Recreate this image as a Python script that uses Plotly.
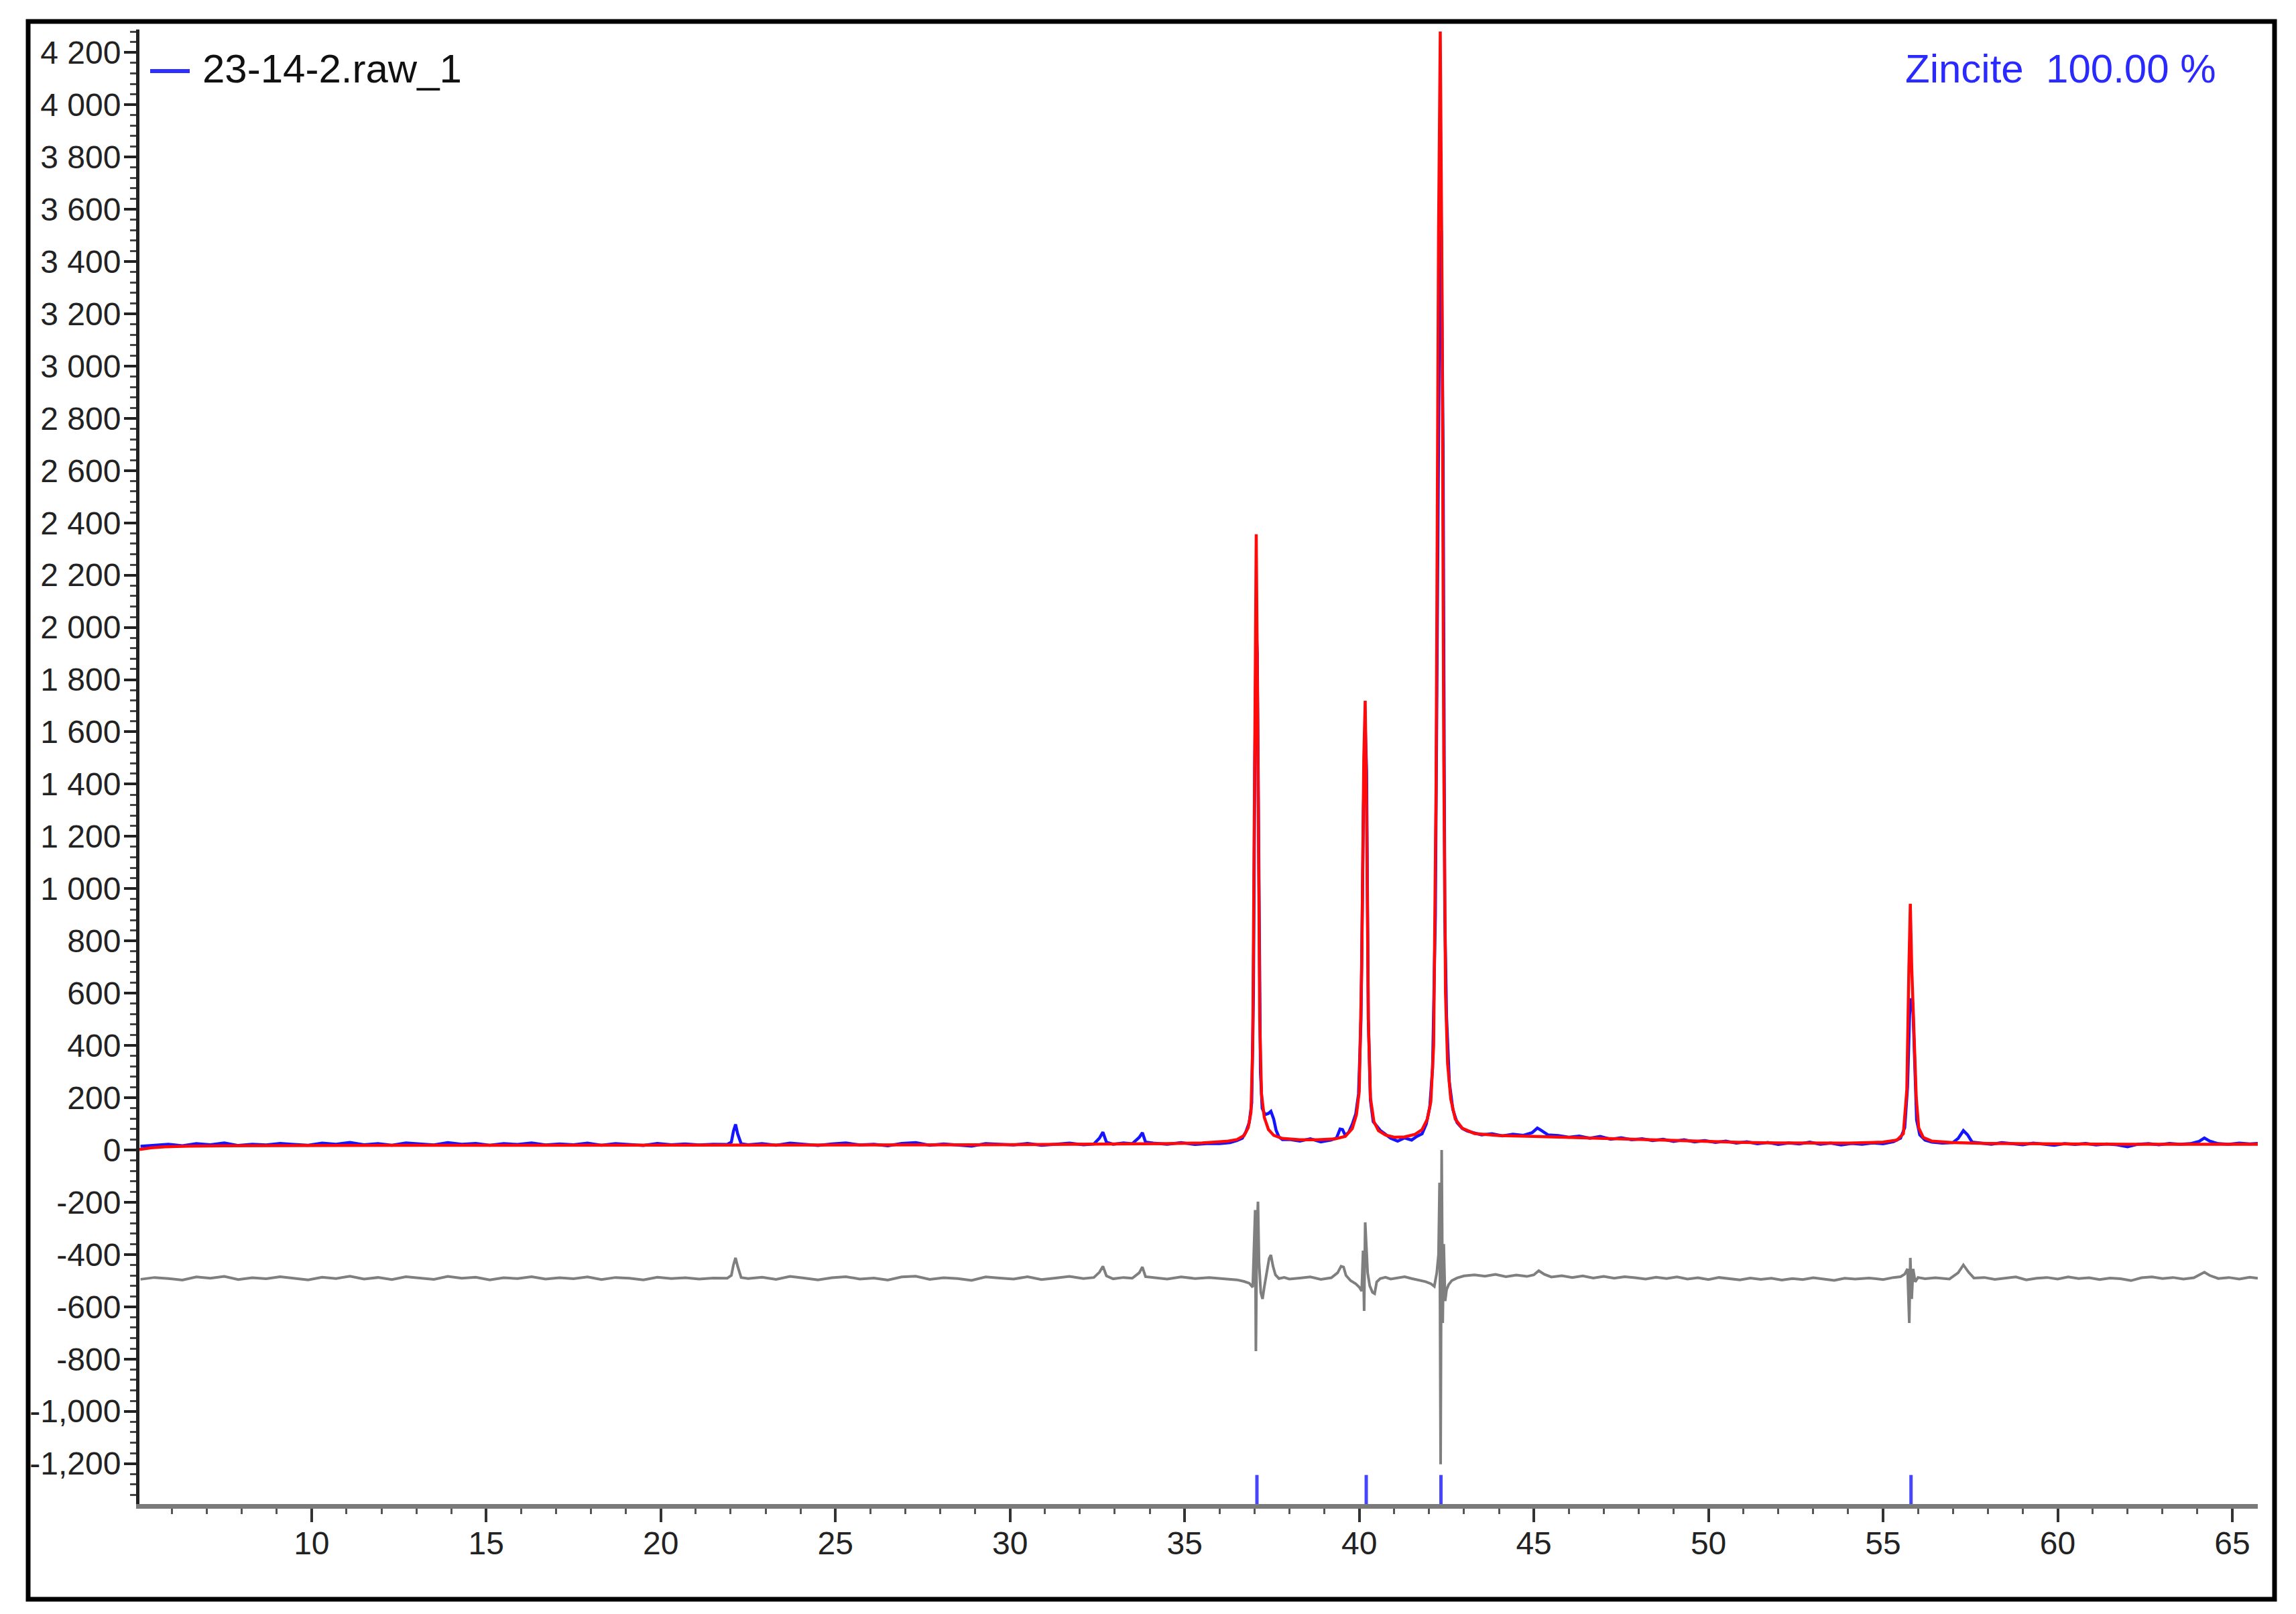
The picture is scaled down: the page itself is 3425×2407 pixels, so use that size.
import plotly.graph_objects as go

# ---------------- data ----------------
obs_x = [5.1, 5.5, 5.9, 6.3, 6.7, 7.1, 7.5, 7.9, 8.3, 8.7, 9.1, 9.5, 9.9, 10.3, 10.7, 11.1, 11.5, 11.9, 12.3, 12.7,
         13.1, 13.5, 13.9, 14.3, 14.7, 15.1, 15.5, 15.9, 16.3, 16.7, 17.1, 17.5, 17.9, 18.3, 18.7, 19.1, 19.5, 19.9, 20.3, 20.7,
         21.1, 21.5, 21.9,
         22.02, 22.08, 22.14, 22.2, 22.3,
         22.5, 22.9, 23.3, 23.7, 24.1, 24.5, 24.9, 25.3, 25.7, 26.1, 26.5, 26.9, 27.3, 27.7, 28.1, 28.5, 28.9, 29.3, 29.7, 30.1,
         30.5, 30.9, 31.3, 31.7, 32.1, 32.4,
         32.56, 32.66, 32.76, 32.95, 33.25, 33.5, 33.7, 33.79, 33.88,
         34.1, 34.5, 34.9, 35.3, 35.7, 36.0, 36.3,
         36.5, 36.65, 36.75, 36.85, 36.92, 36.97, 37.01, 37.05, 37.08, 37.12,
         37.17, 37.22, 37.3, 37.4, 37.47, 37.55, 37.62, 37.7, 37.8, 38.0,
         38.3, 38.6, 38.9, 39.2, 39.35, 39.45, 39.52, 39.6, 39.7, 39.8,
         39.9, 39.98, 40.05, 40.12, 40.17, 40.21, 40.26, 40.32, 40.4, 40.5,
         40.6, 40.75, 40.9, 41.1, 41.3, 41.5,
         41.65, 41.8, 41.92, 42.02, 42.1, 42.18, 42.25, 42.3, 42.35, 42.4,
         42.45, 42.5, 42.58, 42.68, 42.8, 42.95, 43.1, 43.3, 43.5, 43.8,
         44.1, 44.4, 44.7, 44.95, 45.1, 45.2, 45.4, 45.7, 46.0, 46.3,
         46.6, 46.9, 47.2, 47.5, 47.8, 48.1, 48.4, 48.7, 49.0, 49.3,
         49.6, 49.9, 50.2, 50.5, 50.8, 51.1, 51.4, 51.7, 52.0, 52.3,
         52.6, 52.9, 53.2, 53.5, 53.8, 54.1, 54.4, 54.7, 55.0, 55.3,
         55.5, 55.62, 55.7, 55.76, 55.8, 55.85, 55.9, 55.96, 56.05, 56.2, 56.4, 56.7,
         57.0, 57.15, 57.3, 57.42, 57.55,
         57.8, 58.1, 58.4, 58.7, 59.0, 59.3, 59.6, 59.9, 60.2, 60.5,
         60.8, 61.1, 61.4, 61.7, 62.0, 62.3, 62.6, 62.9, 63.2, 63.5,
         63.8, 64.05, 64.2, 64.35, 64.6, 64.9, 65.2, 65.5, 65.73]
obs_y = [14, 18, 22, 16, 24, 20, 27, 17, 22, 19, 25, 21, 18, 26, 22, 29, 20, 24, 18, 27,
         23, 19, 28, 22, 25, 18, 24, 21, 27, 19, 23, 20, 26, 18, 24, 21, 17, 25, 20, 23,
         19, 22, 21,
         30, 72, 98, 62, 24,
         20, 24, 18, 26, 21, 17, 23, 27, 19, 22, 16, 25, 28, 18, 23, 20, 15, 24, 21, 19,
         25, 18, 22, 26, 20, 23,
         45, 68, 30, 22, 27, 24, 48, 66, 30,
         26, 22, 28, 21, 25, 24, 28,
         36, 45, 68, 105, 180, 600, 1500, 2010, 1900, 1100,
         300, 160, 135, 140, 148, 118, 75, 50, 40, 40,
         34, 43, 31, 38, 46, 80, 78, 56, 68, 98,
         138, 215, 500, 1300, 1632, 1450, 500, 190, 108, 92,
         75, 60, 45, 34, 46, 38,
         52, 62, 100, 165, 315, 900, 2500, 3300, 3518, 2700,
         900, 510, 260, 155, 105, 82, 72, 64, 58, 62,
         54, 60, 56, 66, 84, 76, 58, 55, 49, 53,
         45, 52, 41, 47, 39, 43, 36, 41, 33, 39,
         31, 36, 29, 34, 26, 31, 24, 29, 21, 27,
         23, 30, 22, 26, 19, 25, 22, 27, 24, 32,
         45, 85, 240, 520, 580, 560, 320, 115, 58, 38, 30, 26,
         28, 44, 74, 58, 30,
         26, 22, 28, 25, 20, 26, 23, 18, 24, 21,
         25, 19, 23, 20, 12, 22, 24, 20, 25, 22,
         24, 33, 46, 34, 24, 22, 26, 23, 25]

calc_x = [5.07, 5.4, 5.8, 6.5, 7.5, 9, 11, 13, 15, 17,
          19, 21, 23, 25, 27, 29, 31, 33, 34.5, 35.5,
          36.2, 36.5, 36.7, 36.82, 36.9, 36.95, 37.0, 37.05, 37.1, 37.15,
          37.2, 37.28, 37.4, 37.55, 37.8, 38.3, 38.8, 39.3, 39.6, 39.8,
          39.92, 40.0, 40.07, 40.13, 40.17, 40.21, 40.26, 40.32, 40.42, 40.55,
          40.75, 41.0, 41.3, 41.6, 41.8, 41.95, 42.05, 42.13, 42.2, 42.27,
          42.32, 42.37, 42.42, 42.47, 42.53, 42.62, 42.75, 42.95, 43.3, 44,
          45, 46, 47, 48, 49, 50, 51, 52, 53, 54,
          55, 55.4, 55.58, 55.68, 55.74, 55.78, 55.82, 55.86, 55.9, 55.95,
          56.02, 56.15, 56.4, 57, 58, 60, 62, 64, 65.73]
calc_y = [2, 8, 12, 15, 16, 17, 17, 18, 18, 18,
          18, 19, 19, 19, 20, 20, 21, 22, 24, 27,
          33, 40, 55, 85, 145, 400, 1600, 2356, 1500, 500,
          215, 125, 78, 56, 44, 39, 39, 42, 52, 82,
          135, 225, 700, 1500, 1719, 1300, 500, 200, 108, 74,
          57, 49, 50, 60, 78, 118, 185, 400, 1400, 3500,
          4280, 3300, 1500, 600, 330, 195, 118, 83, 63, 55,
          52, 48, 43, 39, 35, 32, 29, 27, 26, 26,
          30, 38, 62, 230, 700, 942, 700, 555, 440, 200,
          85, 48, 34, 28, 25, 23, 22, 22, 22]

diff_x = [5.1, 5.5, 5.9, 6.3, 6.7, 7.1, 7.5, 7.9, 8.3, 8.7, 9.1, 9.5, 9.9, 10.3, 10.7, 11.1, 11.5, 11.9, 12.3, 12.7,
          13.1, 13.5, 13.9, 14.3, 14.7, 15.1, 15.5, 15.9, 16.3, 16.7, 17.1, 17.5, 17.9, 18.3, 18.7, 19.1, 19.5, 19.9, 20.3, 20.7,
          21.1, 21.5, 21.9,
          22.02, 22.08, 22.14, 22.2, 22.3,
          22.5, 22.9, 23.3, 23.7, 24.1, 24.5, 24.9, 25.3, 25.7, 26.1, 26.5, 26.9, 27.3, 27.7, 28.1, 28.5, 28.9, 29.3, 29.7, 30.1,
          30.5, 30.9, 31.3, 31.7, 32.1, 32.4,
          32.56, 32.66, 32.76, 32.95, 33.25, 33.5, 33.7, 33.79, 33.88,
          34.1, 34.5, 34.9, 35.3, 35.7, 36.0, 36.3,
          36.5, 36.7, 36.85, 36.95, 37.0, 37.02, 37.04, 37.07, 37.1, 37.13,
          37.18, 37.23, 37.28, 37.35, 37.42, 37.47, 37.53, 37.6, 37.7, 37.85,
          38.0, 38.3,
          38.6, 38.9, 39.2, 39.38, 39.48, 39.55, 39.62, 39.75, 39.9, 40.0,
          40.07, 40.11, 40.14, 40.17, 40.2, 40.24, 40.3, 40.38, 40.44, 40.5,
          40.6, 40.75, 40.9, 41.1, 41.3, 41.5, 41.7, 41.9, 42.05, 42.15,
          42.22, 42.27, 42.3, 42.33, 42.36, 42.39, 42.42, 42.46, 42.5, 42.56,
          42.65, 42.8, 43.0, 43.3,
          43.6, 43.9, 44.2, 44.5, 44.8, 45.0, 45.14, 45.3, 45.5, 45.8,
          46.1, 46.4, 46.7, 47.0, 47.3, 47.6, 47.9, 48.2,
          48.5, 48.8, 49.1, 49.4, 49.7, 50.0, 50.3, 50.6, 50.9, 51.2,
          51.5, 51.8, 52.1, 52.4, 52.7, 53.0, 53.3, 53.6, 53.9, 54.2,
          54.6, 55.0, 55.3, 55.5, 55.62, 55.7, 55.75, 55.78, 55.82, 55.86,
          55.92, 56.0, 56.2, 56.5,
          56.9, 57.15, 57.3, 57.45, 57.6,
          57.9, 58.2, 58.5, 58.8, 59.1, 59.4, 59.7, 60.0, 60.3, 60.6,
          60.9, 61.2, 61.5, 61.8, 62.1, 62.4, 62.7, 63.0, 63.3, 63.6,
          63.9, 64.05, 64.2, 64.35, 64.6, 64.9, 65.2, 65.5, 65.73]
diff_y = [-495, -488, -492, -498, -486, -491, -484, -496, -489, -493, -485, -490, -497, -487, -492, -483, -494, -488, -496, -485,
          -490, -495, -484, -491, -487, -497, -489, -492, -485, -494, -489, -493, -486, -496, -488, -491, -497, -487, -492, -489,
          -494, -490, -491,
          -480, -440, -413, -445, -488,
          -492, -487, -495, -484, -490, -497, -489, -485, -494, -490, -498, -486, -483, -495, -489, -492, -499, -486, -490, -494,
          -485, -496, -490, -484, -492, -488,
          -468, -445, -482, -493, -488, -491, -470, -448, -485,
          -489, -494, -486, -492, -488, -491, -495,
          -497, -503, -510, -525, -300, -230, -770, -320, -198, -430,
          -545, -570, -525, -470, -415, -402, -445, -478, -492, -488,
          -494, -490,
          -486, -495, -489, -470, -445, -448, -480, -500, -512, -525,
          -540, -385, -616, -277, -360, -470, -520, -545, -550, -505,
          -492, -487, -494, -489, -485, -492, -497, -504, -512, -522,
          -470, -400, -125, -1203, 0, -662, -360, -578, -535, -515,
          -500, -490, -482, -478,
          -483, -476, -485, -479, -484, -478, -462, -476, -486, -481,
          -488, -482, -490, -484, -491, -485, -489, -494,
          -487, -492, -486, -494, -489, -496, -488, -493, -497, -490,
          -495, -491, -498, -492, -496, -489, -495, -499, -491, -494,
          -490, -496, -488, -485, -475, -455, -662, -413, -570, -455,
          -505, -488, -493, -489,
          -494, -470, -440, -468, -490,
          -488, -495, -490, -486, -497, -491, -488, -494, -486, -492,
          -489, -496, -490, -493, -500, -489, -486, -492, -488, -494,
          -489, -478, -468, -480, -492, -488, -494, -487, -491]

# reflection positions of the phase (Zincite)
hkl_pos = [37.07, 40.2, 42.34, 55.8]
hkl_level = -1312

x_tick_vals = [10, 15, 20, 25, 30, 35, 40, 45, 50, 55, 60, 65]
x_tick_text = ["10", "15", "20", "25", "30", "35", "40", "45", "50", "55", "60", "65"]
y_tick_vals = [-1200, -1000, -800, -600, -400, -200, 0, 200, 400, 600, 800, 1000, 1200, 1400,
               1600, 1800, 2000, 2200, 2400, 2600, 2800, 3000, 3200, 3400, 3600, 3800, 4000, 4200]
y_tick_text = ["-1,200", "-1,000", "-800", "-600", "-400", "-200", "0", "200", "400", "600", "800",
               "1 000", "1 200", "1 400", "1 600", "1 800", "2 000", "2 200", "2 400", "2 600", "2 800",
               "3 000", "3 200", "3 400", "3 600", "3 800", "4 000", "4 200"]

legend_text = "23-14-2.raw_1"
phase_text = "Zincite\u00a0\u00a0100.00 %"

# ---------------- layout geometry (pixels) ----------------
W, H = 3425, 2407
L, R, T, B = 208, 3368, 44, 2243
FONT = "Liberation Sans, Arial, sans-serif"


def px(x):
    return (x - L) / (R - L)


def py(y):
    return (B - y) / (B - T)


fig = go.Figure()
fig.add_trace(go.Scatter(x=diff_x, y=diff_y, mode="lines",
                         line=dict(color="#7f7f7f", width=4), name="diff"))
fig.add_trace(go.Scatter(x=obs_x, y=obs_y, mode="lines",
                         line=dict(color="#1414ff", width=4.5), name=legend_text))
fig.add_trace(go.Scatter(x=calc_x, y=calc_y, mode="lines",
                         line=dict(color="#ff0a0a", width=4.5), name="calc"))
fig.add_trace(go.Scatter(x=hkl_pos, y=[hkl_level] * len(hkl_pos), mode="markers",
                         marker=dict(symbol="line-ns", size=38,
                                     line=dict(color="#4646ff", width=5)),
                         name="Zincite"))

fig.update_layout(
    width=W, height=H,
    margin=dict(l=L, r=W - R, t=T, b=H - B, pad=0),
    paper_bgcolor="white", plot_bgcolor="white",
    showlegend=False,
    font=dict(family=FONT, size=48, color="#222222"),
)

fig.update_xaxes(
    range=[5.07, 65.73], showgrid=False, zeroline=False,
    showline=True, linecolor="#7a7a7a", linewidth=7,
    ticks="outside", ticklen=20, tickwidth=4, tickcolor="#333333",
    tickmode="array", tickvals=x_tick_vals, ticktext=x_tick_text,
    tickfont=dict(family=FONT, size=48, color="#222222"),
    ticklabelstandoff=-10,
    minor=dict(tickmode="linear", tick0=0, dtick=1, ticks="outside",
               ticklen=8, tickwidth=3, tickcolor="#555555", showgrid=False),
)
fig.update_yaxes(
    range=[-1355, 4288], showgrid=False, zeroline=False,
    showline=True, linecolor="#222222", linewidth=5,
    ticks="outside", ticklen=18, tickwidth=4, tickcolor="#222222",
    tickmode="array", tickvals=y_tick_vals, ticktext=y_tick_text,
    tickfont=dict(family=FONT, size=48, color="#222222"),
    ticklabelstandoff=-5,
    minor=dict(tickmode="linear", tick0=0, dtick=40, ticks="outside",
               ticklen=9, tickwidth=3, tickcolor="#444444", showgrid=False),
)

# outer frame
fig.add_shape(type="rect", xref="paper", yref="paper",
              x0=px(42), x1=px(3393), y0=py(2385), y1=py(32),
              line=dict(color="black", width=7), layer="above")
# legend sample line
fig.add_shape(type="line", xref="paper", yref="paper",
              x0=px(224), x1=px(283), y0=py(106), y1=py(106),
              line=dict(color="#2f2fff", width=6))
fig.add_annotation(xref="paper", yref="paper", x=px(300), y=py(103),
                   xanchor="left", yanchor="middle", showarrow=False,
                   text=legend_text, font=dict(family=FONT, size=60, color="#111111"))
fig.add_annotation(xref="paper", yref="paper", x=px(3308), y=py(103),
                   xanchor="right", yanchor="middle", showarrow=False,
                   text=phase_text, font=dict(family=FONT, size=60, color="#2a2aff"))

fig.write_html("out.html", config={"displayModeBar": False},
               post_script="document.body.style.margin='0';")
